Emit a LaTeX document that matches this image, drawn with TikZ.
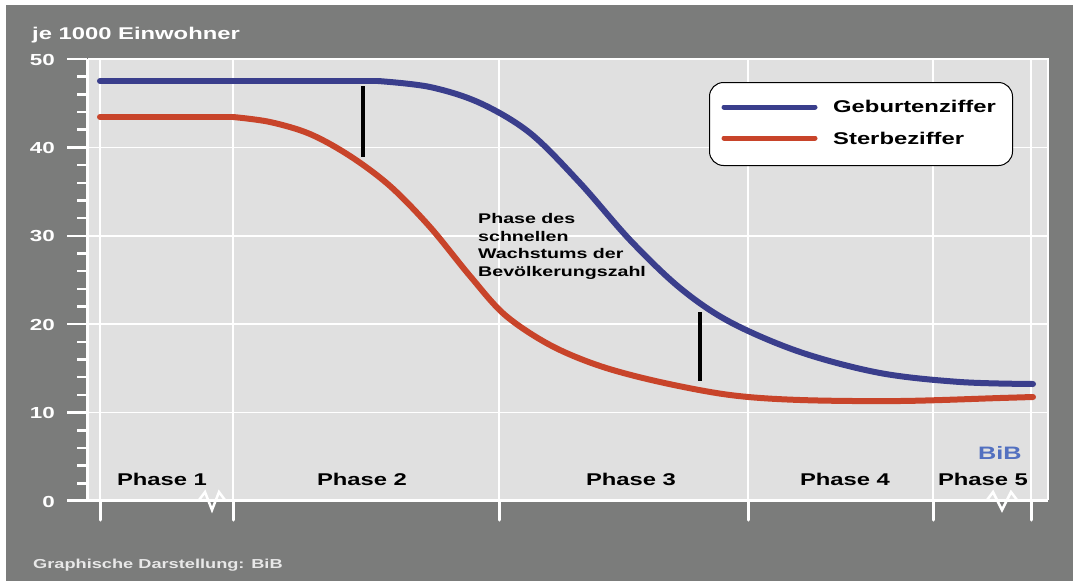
\documentclass[tikz,border=0pt]{standalone}
\usepackage{fontspec}
\newfontfamily\wf{Liberation Sans}[FakeStretch=1.4]
\definecolor{bggray}{RGB}{123,124,123}
\definecolor{plotbg}{RGB}{224,224,224}
\definecolor{gblue}{RGB}{58,62,140}
\definecolor{sred}{RGB}{200,68,42}
\definecolor{bibblue}{RGB}{82,112,192}
\definecolor{foot}{RGB}{232,232,232}
\begin{document}
\begin{tikzpicture}[x=1pt,y=-1pt,
  grid/.style={white,line width=1.5pt},
  tickw/.style={white,line width=3pt,line cap=round},
  axisw/.style={white,line width=3pt},
  curve/.style={line width=6pt,line cap=round,line join=round},
  bar/.style={black,line width=4pt},
  big/.style={font=\wf\bfseries\fontsize{17}{20}\selectfont,inner sep=0pt},
  ylab/.style={font=\wf\bfseries\fontsize{16}{19}\selectfont,inner sep=0pt,white,anchor=base east},
  phase/.style={big,anchor=base,black},
  zig/.style={white,line width=2.5pt,line join=miter}]
\useasboundingbox (0,0) rectangle (1073,581);
\fill[white] (0,0) rectangle (1073,581);
\fill[bggray] (6,5) rectangle (1073,581);
% plot area
\fill[plotbg] (88,59) rectangle (1048,500);
\draw[white,line width=2pt] (88,59) -- (1048,59) -- (1048,500);
% horizontal gridlines
\foreach \v in {10,20,30,40}{
  \draw[grid] (88,{501-8.84*\v}) -- (1048,{501-8.84*\v});
}
% vertical gridlines and ticks below axis
\foreach \xx in {100,233,499,748,933,1031}{
  \draw[grid] (\xx,59) -- (\xx,500);
  \draw[tickw] (\xx,500) -- (\xx,520);
}
% axes
\draw[axisw] (87,59) -- (87,501);
\draw[axisw] (67,500) -- (1048,500);
% y ticks
\foreach \v in {0,10,...,50}{
  \draw[white,line width=2.5pt] (67,{501-8.84*\v}) -- (87,{501-8.84*\v});
  \node[ylab] (y\v) at (55,{507-8.84*\v}) {\v};
}
\foreach \v in {2,4,6,8,12,14,16,18,22,24,26,28,32,34,36,38,42,44,46,48}{
  \draw[white,line width=2.5pt] (77,{501-8.84*\v}) -- (87,{501-8.84*\v});
}
% zigzag breaks
\draw[zig] (199,500) -- (205,492) -- (212,510) -- (219,492) -- (225,500);
\draw[zig] (987,500) -- (993,492) -- (1002,510) -- (1011,492) -- (1017,500);
% curves
\draw[curve,sred] (100,117) -- (233,117);
\draw[curve,sred] plot[smooth,tension=0.55] coordinates {(233,117) (270,122) (310,134) (350,156) (390,186) (430,227) (470,276) (505,315) (550,345) (600,366) (660,382) (730,395) (800,400) (900,401) (1000,398) (1033,397)};
\draw[curve,gblue] (100,81) -- (378,81);
\draw[curve,gblue] plot[smooth,tension=0.55] coordinates {(378,81) (430,87) (480,103) (530,133) (580,183) (630,240) (680,288) (730,322) (800,352) (880,373) (960,382) (1033,384)};
% bars
\draw[bar] (363,86) -- (363,157);
\draw[bar] (700,312) -- (700,381);
% legend
\node[draw=black,line width=1pt,fill=white,rounded corners=14pt,minimum width=303pt,minimum height=83pt,anchor=north west,inner sep=0pt] (legend) at (709,82) {};
\draw[gblue,line width=5pt,line cap=round] (724,107) -- (815,107);
\draw[sred,line width=5pt,line cap=round] (724,138) -- (815,138);
\node[big,anchor=base west] (lgeb) at (833,112) {Geburtenziffer};
\node[big,anchor=base west] (lster) at (833,144) {Sterbeziffer};
% texts
\node[big,anchor=base west,white] (title) at (32,39) {je 1000 Einwohner};
\node[font=\wf\bfseries\fontsize{14}{17.7}\selectfont,inner sep=0pt,anchor=north west,align=left] (mid) at (478,213) {Phase des\\schnellen\\Wachstums der\\Bevölkerungszahl};
\node[phase] (p1) at (162,485) {Phase 1};
\node[phase] (p2) at (362,485) {Phase 2};
\node[phase] (p3) at (631,485) {Phase 3};
\node[phase] (p4) at (845,485) {Phase 4};
\node[phase] (p5) at (983,485) {Phase 5};
\node[font=\wf\bfseries\fontsize{18}{21}\selectfont,inner sep=0pt,anchor=base west,bibblue] (bib) at (978,459) {BiB};
\node[font=\wf\bfseries\fontsize{13}{16}\selectfont,inner sep=0pt,anchor=base west,foot] (footer) at (33,568) {Graphische Darstellung: BiB};
\end{tikzpicture}
\end{document}
